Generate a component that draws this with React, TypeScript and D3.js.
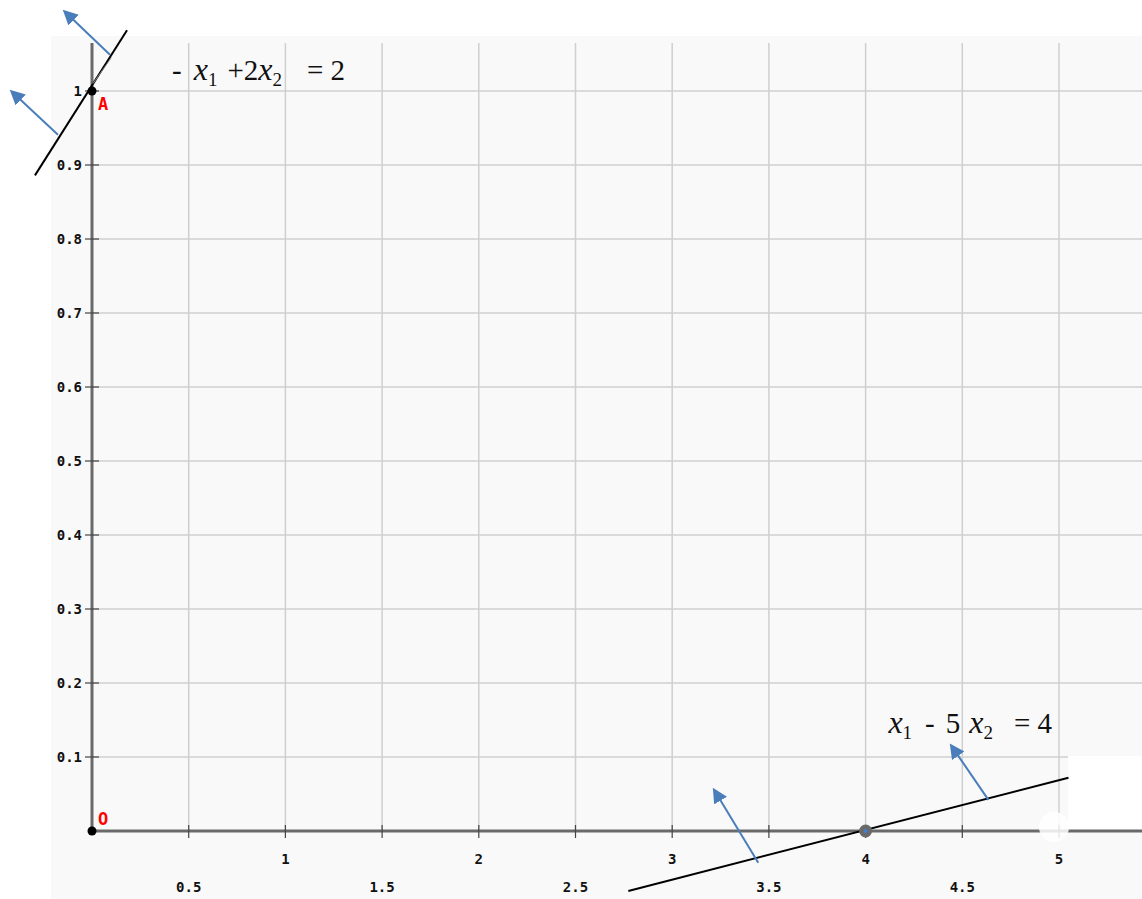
import * as d3 from "d3";
import { useEffect, useRef } from "react";

const xTicks = [0.5, 1, 1.5, 2, 2.5, 3, 3.5, 4, 4.5, 5];
const yTicks = [0.1, 0.2, 0.3, 0.4, 0.5, 0.6, 0.7, 0.8, 0.9, 1];

const namedPoints = [
  { name: "O", x: 0, y: 0 },
  { name: "A", x: 0, y: 1 },
];
const vertex = { x: 4, y: 0 };

// constraint lines, endpoints as drawn in the picture
const line1 = [
  [-0.295, 0.886],
  [0.181, 1.082],
];
const line2 = [
  [2.773, -0.081],
  [5.049, 0.072],
];

// direction arrows: [from, to]
const arrows = [
  [[0.093, 1.049], [-0.14, 1.107]],
  [[-0.176, 0.941], [-0.414, 0.999]],
  [[3.445, -0.043], [3.218, 0.055]],
  [[4.635, 0.042], [4.444, 0.115]],
];

const eq1 = [
  { t: "-", k: "n" },
  { t: "x", k: "i", dx: 12 },
  { t: "1", k: "s" },
  { t: "+2", k: "n", dx: 10 },
  { t: "x", k: "i" },
  { t: "2", k: "s" },
  { t: "= 2", k: "n", dx: 25 },
];
const eq2 = [
  { t: "x", k: "i" },
  { t: "1", k: "s" },
  { t: "-", k: "n", dx: 13 },
  { t: "5", k: "n", dx: 11 },
  { t: "x", k: "i", dx: 9 },
  { t: "2", k: "s" },
  { t: "= 4", k: "n", dx: 21 },
];

function drawChart(svgElement: SVGSVGElement) {
  const width = 1142;
  const height = 899;
  const svg = d3.select(svgElement);
  svg.selectAll("*").remove();
  svg.attr("width", width).attr("height", height).attr("viewBox", `0 0 ${width} ${height}`);

  const x = d3.scaleLinear().domain([0, 5]).range([92, 1059]);
  const y = d3.scaleLinear().domain([0, 1]).range([831, 91]);
  const top = 43;

  svg.append("rect").attr("width", width).attr("height", height).attr("fill", "#fff");
  svg.append("rect").attr("x", 51).attr("y", 36).attr("width", width - 51).attr("height", height - 36).attr("fill", "#f9f9f9");

  // grid
  svg
    .append("g")
    .selectAll("line")
    .data(xTicks)
    .join("line")
    .attr("x1", (d) => x(d))
    .attr("x2", (d) => x(d))
    .attr("y1", top)
    .attr("y2", y(0))
    .attr("stroke", "#cfcfcf")
    .attr("stroke-width", 1.5);
  svg
    .append("g")
    .selectAll("line")
    .data(yTicks)
    .join("line")
    .attr("x1", x(0))
    .attr("x2", width)
    .attr("y1", (d) => y(d))
    .attr("y2", (d) => y(d))
    .attr("stroke", "#cfcfcf")
    .attr("stroke-width", 1.5);

  // axes
  svg.append("line").attr("x1", x(0)).attr("x2", x(0)).attr("y1", top).attr("y2", y(0)).attr("stroke", "#6a6a6a").attr("stroke-width", 3);
  svg.append("line").attr("x1", x(0)).attr("x2", width).attr("y1", y(0)).attr("y2", y(0)).attr("stroke", "#6a6a6a").attr("stroke-width", 3);

  svg
    .append("g")
    .selectAll("line")
    .data(xTicks)
    .join("line")
    .attr("x1", (d) => x(d))
    .attr("x2", (d) => x(d))
    .attr("y1", y(0) - 6)
    .attr("y2", y(0) + 7)
    .attr("stroke", "#444")
    .attr("stroke-width", 1.2);
  svg
    .append("g")
    .selectAll("line")
    .data(yTicks)
    .join("line")
    .attr("x1", x(0) - 7)
    .attr("x2", x(0) + 7)
    .attr("y1", (d) => y(d))
    .attr("y2", (d) => y(d))
    .attr("stroke", "#444")
    .attr("stroke-width", 1.2);

  const tickFont = "'DejaVu Sans Mono', monospace";
  svg
    .append("g")
    .selectAll("text")
    .data(xTicks)
    .join("text")
    .attr("x", (d) => x(d))
    .attr("y", (d) => (Number.isInteger(d) ? 864 : 892))
    .attr("text-anchor", "middle")
    .attr("font-family", tickFont)
    .attr("font-weight", "bold")
    .attr("font-size", 14)
    .attr("fill", "#111")
    .text((d) => String(d));
  svg
    .append("g")
    .selectAll("text")
    .data(yTicks)
    .join("text")
    .attr("x", 82)
    .attr("y", (d) => y(d) + 5)
    .attr("text-anchor", "end")
    .attr("font-family", tickFont)
    .attr("font-weight", "bold")
    .attr("font-size", 14)
    .attr("fill", "#111")
    .text((d) => String(d));

  // white patches at the right end
  svg.append("rect").attr("x", 1068).attr("y", 756).attr("width", width - 1068).attr("height", 73).attr("fill", "#fff");
  svg.append("circle").attr("cx", 1054).attr("cy", 827).attr("r", 15).attr("fill", "#fff").attr("opacity", 0.85);

  // constraint lines
  const line = d3.line<number[]>().x((d) => x(d[0])).y((d) => y(d[1]));
  [line1, line2].forEach((l) => {
    svg.append("path").attr("d", line(l)).attr("fill", "none").attr("stroke", "#000").attr("stroke-width", 2);
  });
  svg.append("line").attr("x1", x(0.005)).attr("y1", y(1.01)).attr("x2", x(0.1)).attr("y2", y(1.045)).attr("stroke", "#888").attr("stroke-width", 1);

  // arrows
  const defs = svg.append("defs");
  defs
    .append("marker")
    .attr("id", "arrowhead")
    .attr("viewBox", "0 0 10 10")
    .attr("refX", 8)
    .attr("refY", 5)
    .attr("markerWidth", 7.5)
    .attr("markerHeight", 7.5)
    .attr("markerUnits", "strokeWidth")
    .attr("orient", "auto")
    .append("path")
    .attr("d", "M0,0 L10,5 L0,10 z")
    .attr("fill", "#4a7ebb");
  svg
    .append("g")
    .selectAll("line")
    .data(arrows)
    .join("line")
    .attr("x1", (d) => x(d[0][0]))
    .attr("y1", (d) => y(d[0][1]))
    .attr("x2", (d) => x(d[1][0]))
    .attr("y2", (d) => y(d[1][1]))
    .attr("stroke", "#4a7ebb")
    .attr("stroke-width", 2)
    .attr("marker-end", "url(#arrowhead)");

  // points
  svg
    .append("g")
    .selectAll("circle")
    .data(namedPoints)
    .join("circle")
    .attr("cx", (d) => x(d.x))
    .attr("cy", (d) => y(d.y))
    .attr("r", 4.5)
    .attr("fill", "#000");
  svg
    .append("g")
    .selectAll("text")
    .data(namedPoints)
    .join("text")
    .attr("x", (d) => x(d.x) + 6)
    .attr("y", (d) => (d.name === "O" ? y(d.y) - 6 : y(d.y) + 19))
    .attr("fill", "#f00")
    .attr("font-family", "'DejaVu Sans Mono', monospace")
    .attr("font-size", 17)
    .attr("font-weight", "bold")
    .text((d) => d.name);
  svg.append("circle").attr("cx", x(vertex.x)).attr("cy", y(vertex.y)).attr("r", 5.5).attr("fill", "#6a6a6a").attr("stroke", "#6a6a6a").attr("stroke-width", 2);
  svg.append("circle").attr("cx", x(vertex.x)).attr("cy", y(vertex.y)).attr("r", 2).attr("fill", "#3f7fd0");

  // equation labels
  const drawEq = (parts: { t: string; k: string; dx?: number }[], px: number, py: number) => {
    const t = svg
      .append("text")
      .attr("x", x(px))
      .attr("y", y(py))
      .attr("font-family", "'Liberation Serif', serif")
      .attr("font-size", 29)
      .attr("fill", "#111");
    let shifted = false;
    parts.forEach((p) => {
      const s = t.append("tspan").text(p.t);
      let dy = 0;
      if (p.k === "s" && !shifted) {
        dy = 6;
        shifted = true;
      } else if (p.k !== "s" && shifted) {
        dy = -6;
        shifted = false;
      }
      s.attr("dy", dy).attr("dx", p.dx ?? 0);
      if (p.k === "i") s.attr("font-style", "italic").attr("font-size", 32);
      if (p.k === "s") s.attr("font-size", 19);
    });
  };
  drawEq(eq1, 0.414, 1.015);
  drawEq(eq2, 4.118, 0.132);
}

export default function App() {
  const ref = useRef<SVGSVGElement>(null);
  useEffect(() => {
    if (ref.current) drawChart(ref.current);
  }, []);
  return (
    <div style={{ position: "absolute", left: 0, top: 0 }}>
      <svg ref={ref} style={{ display: "block" }} />
    </div>
  );
}
